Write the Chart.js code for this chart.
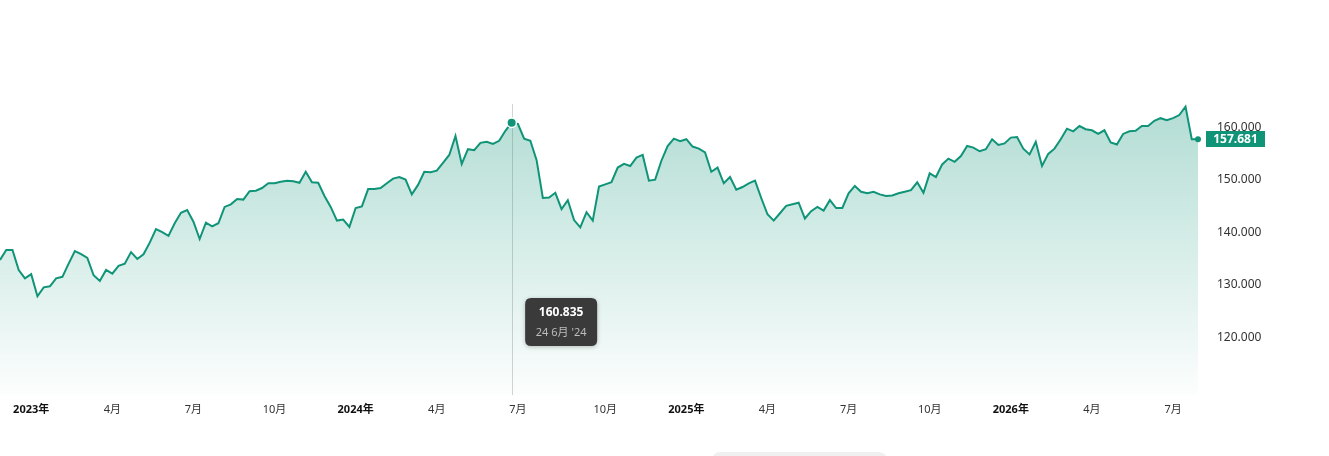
<!DOCTYPE html>
<html><head><meta charset="utf-8">
<script src="https://cdn.jsdelivr.net/npm/chart.js@4.4.1/dist/chart.umd.min.js"></script>
<style>
html,body{margin:0;padding:0;background:#fff;overflow:hidden}
#wrap{position:relative;width:1329px;height:456px}
canvas{display:block}
#pill{position:absolute;left:712px;top:452px;width:175px;height:20px;background:#f0f0f0;border-radius:8px}
</style></head><body>
<div id="wrap"><canvas id="c" width="1329" height="456"></canvas><div id="pill"></div></div>
<script>
const startDate = '2022-11-28';
const stepDays = 7;
const values = [
134700,136600,136600,132800,131200,132000,127800,129500,129700,131200,
131500,134000,136400,135800,135100,131800,130700,132800,132100,133600,
134000,136200,134900,135800,138000,140600,140000,139300,141700,143700,
144200,142000,138700,141800,141100,141700,144800,145300,146300,146200,
147800,147900,148400,149300,149300,149600,149800,149700,149400,151500,
149500,149400,146900,144800,142200,142400,141000,144600,144900,148200,
148200,148400,149300,150200,150500,150000,147200,149000,151500,151400,
151700,153200,154700,158300,153000,155800,155600,157000,157200,156800,
157400,159300,160835,160600,157800,157400,153700,146500,146600,147500,
144400,146100,142300,140900,143800,142200,148700,149100,149500,152300,
153000,152600,154200,154700,149800,150000,153600,156400,157800,157300,
157700,156300,155900,155200,151500,152300,149300,150500,148100,148600,
149300,149800,146500,143400,142200,143600,145000,145300,145600,142600,
144000,144800,144100,146100,144600,144600,147400,148800,147700,147400,
147700,147200,146900,147000,147400,147700,148000,149500,147500,151200,
150500,152900,154000,153400,154500,156400,156100,155400,155800,157700,
156600,156900,158000,158100,155900,154800,157200,152600,154900,155900,
157700,159700,159200,160200,159600,159400,158700,159400,157100,156700,
158700,159200,159300,160200,160200,161200,161700,161300,161700,162300,
163900,157700,157681
];
const tickDates = ['2023-01-02','2023-04-03','2023-07-03','2023-10-02','2024-01-01','2024-04-01','2024-07-01','2024-10-07','2025-01-06','2025-04-07','2025-07-07','2025-10-06','2026-01-05','2026-04-06','2026-07-06'];
const tickLabels = ['2023年','4月','7月','10月','2024年','4月','7月','10月','2025年','4月','7月','10月','2026年','4月','7月'];
const yTicks = [120000,130000,140000,150000,160000];
const yMin = 109000, yMax = 164400;
const activeDate = '2024-06-24';

const DAY = 86400000;
const t0 = Date.parse(startDate + 'T00:00:00Z');
const dayOf = s => Math.round((Date.parse(s + 'T00:00:00Z') - t0) / DAY);
const pts = values.map((v, i) => ({x: i * stepDays, y: v}));
const tickDays = tickDates.map(dayOf);
const activeIndex = dayOf(activeDate) / stepDays;
const lastIndex = values.length - 1;
const fmt = v => String(Math.round(v)).replace(/\B(?=(\d{3})+(?!\d))/g, '.');
const fmtDate = s => { const d = new Date(s + 'T00:00:00Z'); return d.getUTCDate() + ' ' + (d.getUTCMonth() + 1) + '月 \'' + String(d.getUTCFullYear()).slice(2); };

const FONT = "'Segoe UI','Noto Sans','Noto Sans CJK JP',sans-serif";
const TEAL = '#0f9478';

function roundRect(ctx, x, y, w, h, r) {
  ctx.beginPath();
  ctx.moveTo(x + r, y); ctx.lineTo(x + w - r, y); ctx.quadraticCurveTo(x + w, y, x + w, y + r);
  ctx.lineTo(x + w, y + h - r); ctx.quadraticCurveTo(x + w, y + h, x + w - r, y + h);
  ctx.lineTo(x + r, y + h); ctx.quadraticCurveTo(x, y + h, x, y + h - r);
  ctx.lineTo(x, y + r); ctx.quadraticCurveTo(x, y, x + r, y); ctx.closePath();
}

const overlay = {
  id: 'overlay',
  beforeDatasetsDraw(chart) {
    const {ctx, chartArea: a} = chart;
    const p = chart.getDatasetMeta(0).data[activeIndex];
    ctx.save();
    ctx.strokeStyle = '#d4d4d4'; ctx.lineWidth = 1;
    const x = Math.round(p.x) + 0.5;
    ctx.beginPath(); ctx.moveTo(x, a.top); ctx.lineTo(x, a.bottom); ctx.stroke();
    ctx.restore();
  },
  afterDraw(chart) {
    const {ctx, chartArea: a} = chart;
    const meta = chart.getDatasetMeta(0);
    const p = meta.data[activeIndex];
    const last = meta.data[lastIndex];
    ctx.save();
    ctx.beginPath(); ctx.arc(p.x, p.y, 5.5, 0, Math.PI * 2); ctx.fillStyle = '#fff'; ctx.fill();
    ctx.beginPath(); ctx.arc(p.x, p.y, 4, 0, Math.PI * 2); ctx.fillStyle = TEAL; ctx.fill();
    ctx.beginPath(); ctx.arc(last.x, last.y, 3, 0, Math.PI * 2); ctx.fillStyle = TEAL; ctx.fill();
    const bx = a.right + 8, bw = 59, bh = 16;
    ctx.fillStyle = TEAL;
    ctx.fillRect(bx, Math.round(last.y - bh / 2), bw, bh);
    ctx.fillStyle = '#fff'; ctx.font = 'bold 12px ' + FONT;
    ctx.textAlign = 'center'; ctx.textBaseline = 'middle';
    ctx.fillText(fmt(values[lastIndex]), bx + bw / 2, last.y + 0.5);
    const tw = 72, th = 48, tx = p.x + 13.5, ty = a.top + 194;
    roundRect(ctx, tx, ty, tw, th, 6);
    ctx.shadowColor = 'rgba(0,0,0,0.25)'; ctx.shadowBlur = 4; ctx.shadowOffsetY = 1;
    ctx.fillStyle = '#3a3a3a'; ctx.fill();
    ctx.shadowColor = 'transparent';
    ctx.fillStyle = '#fff'; ctx.font = 'bold 12px ' + FONT;
    ctx.fillText(fmt(values[activeIndex]), tx + tw / 2, ty + 14.5);
    ctx.fillStyle = '#bdbdbd'; ctx.font = '11px ' + FONT;
    ctx.fillText(fmtDate(activeDate), tx + tw / 2, ty + 35);
    ctx.restore();
  }
};

new Chart(document.getElementById('c'), {
  type: 'line',
  data: {
    datasets: [{
      data: pts,
      borderColor: TEAL,
      borderWidth: 2,
      tension: 0,
      clip: false,
      pointRadius: 0,
      pointHoverRadius: 0,
      fill: 'start',
      backgroundColor: ctx => {
        const a = ctx.chart.chartArea;
        if (!a) return 'rgba(15,148,120,0.2)';
        const g = ctx.chart.ctx.createLinearGradient(0, a.top, 0, a.bottom);
        g.addColorStop(0, 'rgba(15,148,120,0.32)');
        g.addColorStop(1, 'rgba(15,148,120,0.01)');
        return g;
      }
    }]
  },
  options: {
    responsive: false,
    animation: false,
    devicePixelRatio: 1,
    layout: {autoPadding: false, padding: {top: 104, left: 0, right: 0, bottom: 0}},
    plugins: {legend: {display: false}, tooltip: {enabled: false}},
    events: [],
    scales: {
      x: {
        type: 'linear',
        min: 0,
        max: lastIndex * stepDays,
        grid: {display: false, drawTicks: false},
        border: {display: false},
        afterBuildTicks: s => { s.ticks = tickDays.map(v => ({value: v})); },
        afterFit: s => { s.height = 61; },
        ticks: {
          autoSkip: false, maxRotation: 0, padding: 8,
          color: ctx => (tickLabels[ctx.index] || '').includes('年') ? '#111' : '#333',
          font: ctx => ({family: FONT, size: 11, weight: (tickLabels[ctx.index] || '').includes('年') ? 'bold' : 'normal'}),
          callback: (v, i) => tickLabels[i]
        }
      },
      y: {
        position: 'right',
        min: yMin, max: yMax,
        grid: {display: false, drawTicks: false},
        border: {display: false},
        afterBuildTicks: s => { s.ticks = yTicks.map(v => ({value: v})); },
        afterFit: s => { s.width = 131; },
        ticks: {
          padding: 19, color: '#333',
          font: {family: FONT, size: 12},
          callback: v => fmt(v)
        }
      }
    }
  },
  plugins: [overlay]
});
</script>
</body></html>
